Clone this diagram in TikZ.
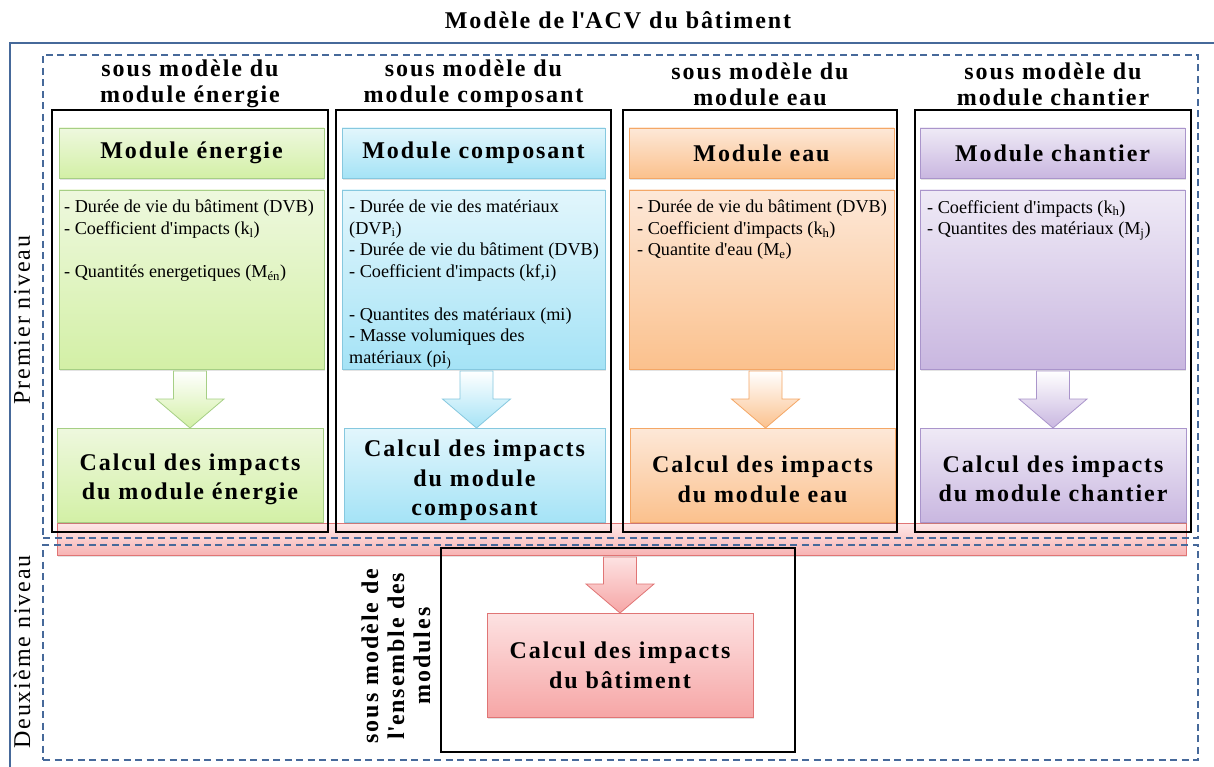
\documentclass[tikz,border=0pt]{standalone}
\usepackage{fontspec}
\setmainfont{Liberation Serif}
\newfontfamily\bsp{Liberation Serif}[LetterSpace=8]
\usetikzlibrary{calc,shadows}
\newcommand{\apo}{\textquotesingle}
\definecolor{gT}{HTML}{EEF8DE}\definecolor{gBt}{HTML}{D3F0A6}\definecolor{gD}{HTML}{A6CF85}
\definecolor{bT}{HTML}{E2F6FC}\definecolor{bBt}{HTML}{A5E3F6}\definecolor{bD}{HTML}{86C8DF}
\definecolor{oT}{HTML}{FDE8D8}\definecolor{oBt}{HTML}{FBC18D}\definecolor{oD}{HTML}{F4A766}
\definecolor{vT}{HTML}{EFEAF6}\definecolor{vBt}{HTML}{C9B7E0}\definecolor{vD}{HTML}{AA95CB}
\definecolor{pT}{HTML}{FDE2E2}\definecolor{pBt}{HTML}{F6A6A6}\definecolor{pD}{HTML}{E07575}
\definecolor{lineblue}{HTML}{46699A}
\newcommand{\blkarrow}[3]{%
  \path[#3] let \p1=(#1), \p2=(#2) in
   (\x2-16.5pt,\y1) -- (\x2+16.5pt,\y1) -- (\x2+16.5pt,\y2+29pt) -- (\x2+34pt,\y2+29pt)
   -- (\x2,\y2) -- (\x2-34pt,\y2+29pt) -- (\x2-16.5pt,\y2+29pt) -- cycle;}
\begin{document}
\begin{tikzpicture}[x=1pt,y=-1pt,
  box/.style={line width=0.9pt, inner sep=0pt, outer sep=0pt,
     drop shadow={shadow xshift=1pt, shadow yshift=-1.6pt, opacity=.22}},
  gbox/.style={box, draw=gD, top color=gT, bottom color=gBt},
  bbox/.style={box, draw=bD, top color=bT, bottom color=bBt},
  obox/.style={box, draw=oD, top color=oT, bottom color=oBt},
  vbox/.style={box, draw=vD, top color=vT, bottom color=vBt},
  pbox/.style={box, draw=pD, top color=pT, bottom color=pBt},
  garrow/.style={draw=gD, line width=0.8pt, top color=white, bottom color=gBt},
  barrow/.style={draw=bD, line width=0.8pt, top color=white, bottom color=bBt},
  oarrow/.style={draw=oD, line width=0.8pt, top color=white, bottom color=oBt},
  varrow/.style={draw=vD, line width=0.8pt, top color=white, bottom color=vBt},
  parrow/.style={draw=pD, line width=0.8pt, top color=pT, bottom color=pBt},
  bigfont/.style={font=\bsp\bfseries\fontsize{24}{26}\selectfont},
  hdr/.style={bigfont, align=center, inner sep=0pt},
  modtitle/.style={font=\bsp\bfseries\fontsize{24}{26}\selectfont},
  calcfont/.style={font=\bsp\bfseries\fontsize{24}{29.5}\selectfont, align=center, inner sep=0pt},
  body/.style={font=\fontsize{18.2}{21.5}\selectfont, align=left, inner sep=0pt, anchor=north west},
  smbox/.style={draw=black, line width=2.2pt, inner sep=0pt, outer sep=0pt},
  lvl/.style={draw=lineblue, line width=1.6pt, dash pattern=on 7pt off 4.5pt, inner sep=0pt, outer sep=0pt},
  vlab/.style={font=\bsp\fontsize{24}{26}\selectfont, rotate=90, inner sep=0pt}
]
\useasboundingbox (0,0) rectangle (1214,767);
\fill[white] (0,0) rectangle (1214,767);
% title and outer frame
\node[bigfont] (title) at (618,20) {Modèle de l\apo ACV du bâtiment};
\draw[lineblue, line width=2pt] (10,770) -- (10,43) -- (1218,43);
% pink band
\node[box, draw=pD, top color=pT!80, bottom color=pBt!85, minimum width=1129pt, minimum height=32pt] (band) at (621.5,539) {};
% module headers
\node[gbox, minimum width=265pt, minimum height=50pt, modtitle] (hg) at (191.5,153) {Module énergie};
\node[bbox, minimum width=263pt, minimum height=50pt, modtitle] (hb) at (473.5,153) {Module composant};
\node[obox, minimum width=265pt, minimum height=50pt, modtitle] (ho) at (761.5,153) {Module eau};
\node[vbox, minimum width=265pt, minimum height=50pt, modtitle] (hv) at (1052.5,153) {Module chantier};
% text boxes
\node[gbox, minimum width=265pt, minimum height=179pt] (tg) at (191.5,279.5) {};
\node[bbox, minimum width=263pt, minimum height=179pt] (tb) at (473.5,279.5) {};
\node[obox, minimum width=265pt, minimum height=179pt] (to) at (761.5,279.5) {};
\node[vbox, minimum width=265pt, minimum height=179pt] (tv) at (1052.5,279.5) {};
\node[body] (tgt) at ($(tg.north west)+(5,10)$) {- Durée de vie du bâtiment (DVB)\\- Coefficient d\apo impacts (k\textsubscript{l})\\[21.5pt]- Quantités energetiques (M\textsubscript{én})};
\node[body] (tbt) at ($(tb.north west)+(7,10)$) {- Durée de vie des matériaux\\(DVP\textsubscript{i})\\- Durée de vie du bâtiment (DVB)\\- Coefficient d\apo impacts (kf,i)\\[21.5pt]- Quantites des matériaux (mi)\\- Masse volumiques des\\matériaux (ρi\textsubscript{)}};
\node[body] (tot) at ($(to.north west)+(8,10)$) {- Durée de vie du bâtiment (DVB)\\- Coefficient d\apo impacts (k\textsubscript{h})\\- Quantite d\apo eau (M\textsubscript{e})};
\node[body] (tvt) at ($(tv.north west)+(7,10)$) {- Coefficient d\apo impacts (k\textsubscript{h})\\- Quantites des matériaux (M\textsubscript{j})};
% calc boxes
\node[gbox, minimum width=266pt, minimum height=94pt] (cg) at (190,475) {};
\node[bbox, minimum width=261pt, minimum height=94pt] (cb) at (474.5,475) {};
\node[obox, minimum width=265pt, minimum height=94pt] (co) at (762.5,475) {};
\node[vbox, minimum width=266pt, minimum height=94pt] (cv) at (1053,475) {};
\node[pbox, minimum width=266pt, minimum height=104pt] (c5) at (620,665) {};
\node[calcfont] (cgt) at ($(cg)+(0,4.5)$) {Calcul des impacts\\du module énergie};
\node[calcfont] (cbt) at ($(cb)+(0,5.5)$) {Calcul des impacts\\du module\\composant};
\node[calcfont] (cot) at ($(co)+(0,4.5)$) {Calcul des impacts\\du module eau};
\node[calcfont] (cvt) at ($(cv)+(0,4)$) {Calcul des impacts\\du module chantier};
\node[calcfont] (c5t) at ($(c5)+(0,0.5)$) {Calcul des impacts\\du bâtiment};
% arrows
\blkarrow{$(tg.south)+(0,2)$}{cg.north}{garrow}
\blkarrow{$(tb.south)+(0,2)$}{$(cb.north)+(2,0)$}{barrow}
\blkarrow{$(to.south)+(0,2)$}{$(co.north)+(3,0)$}{oarrow}
\blkarrow{$(tv.south)+(0,2)$}{cv.north}{varrow}
\blkarrow{$(band.south)+(0,2)$}{c5.north}{parrow}
% sub-model frames
\node[smbox, minimum width=276pt, minimum height=422pt] (s1) at (190,321) {};
\node[smbox, minimum width=275pt, minimum height=422pt] (s2) at (473.5,321) {};
\node[smbox, minimum width=274pt, minimum height=422pt] (s3) at (760,321) {};
\node[smbox, minimum width=276pt, minimum height=422pt] (s4) at (1053,321) {};
\node[smbox, minimum width=354pt, minimum height=204pt] (s5) at (618,650) {};
% sub-model titles
\node[hdr] (h1) at (190,84) {sous modèle du\\module énergie};
\node[hdr] (h2) at (473.5,84) {sous modèle du\\module composant};
\node[hdr] (h3) at (760,84) {sous modèle du\\module eau};
\node[hdr] (h4) at (1053,84) {sous modèle du\\module chantier};
\node[hdr, rotate=90] (h5) at (396,656) {sous modèle de\\l\apo ensemble des\\modules};
% levels
\node[lvl, minimum width=1155pt, minimum height=483pt] (L1) at (620.5,296.5) {};
\node[lvl, minimum width=1155pt, minimum height=215pt] (L2) at (620.5,652.5) {};
\node[vlab] (n1) at (22,320) {Premier niveau};
\node[vlab] (n2) at (22,652) {Deuxième niveau};
\end{tikzpicture}
\end{document}
